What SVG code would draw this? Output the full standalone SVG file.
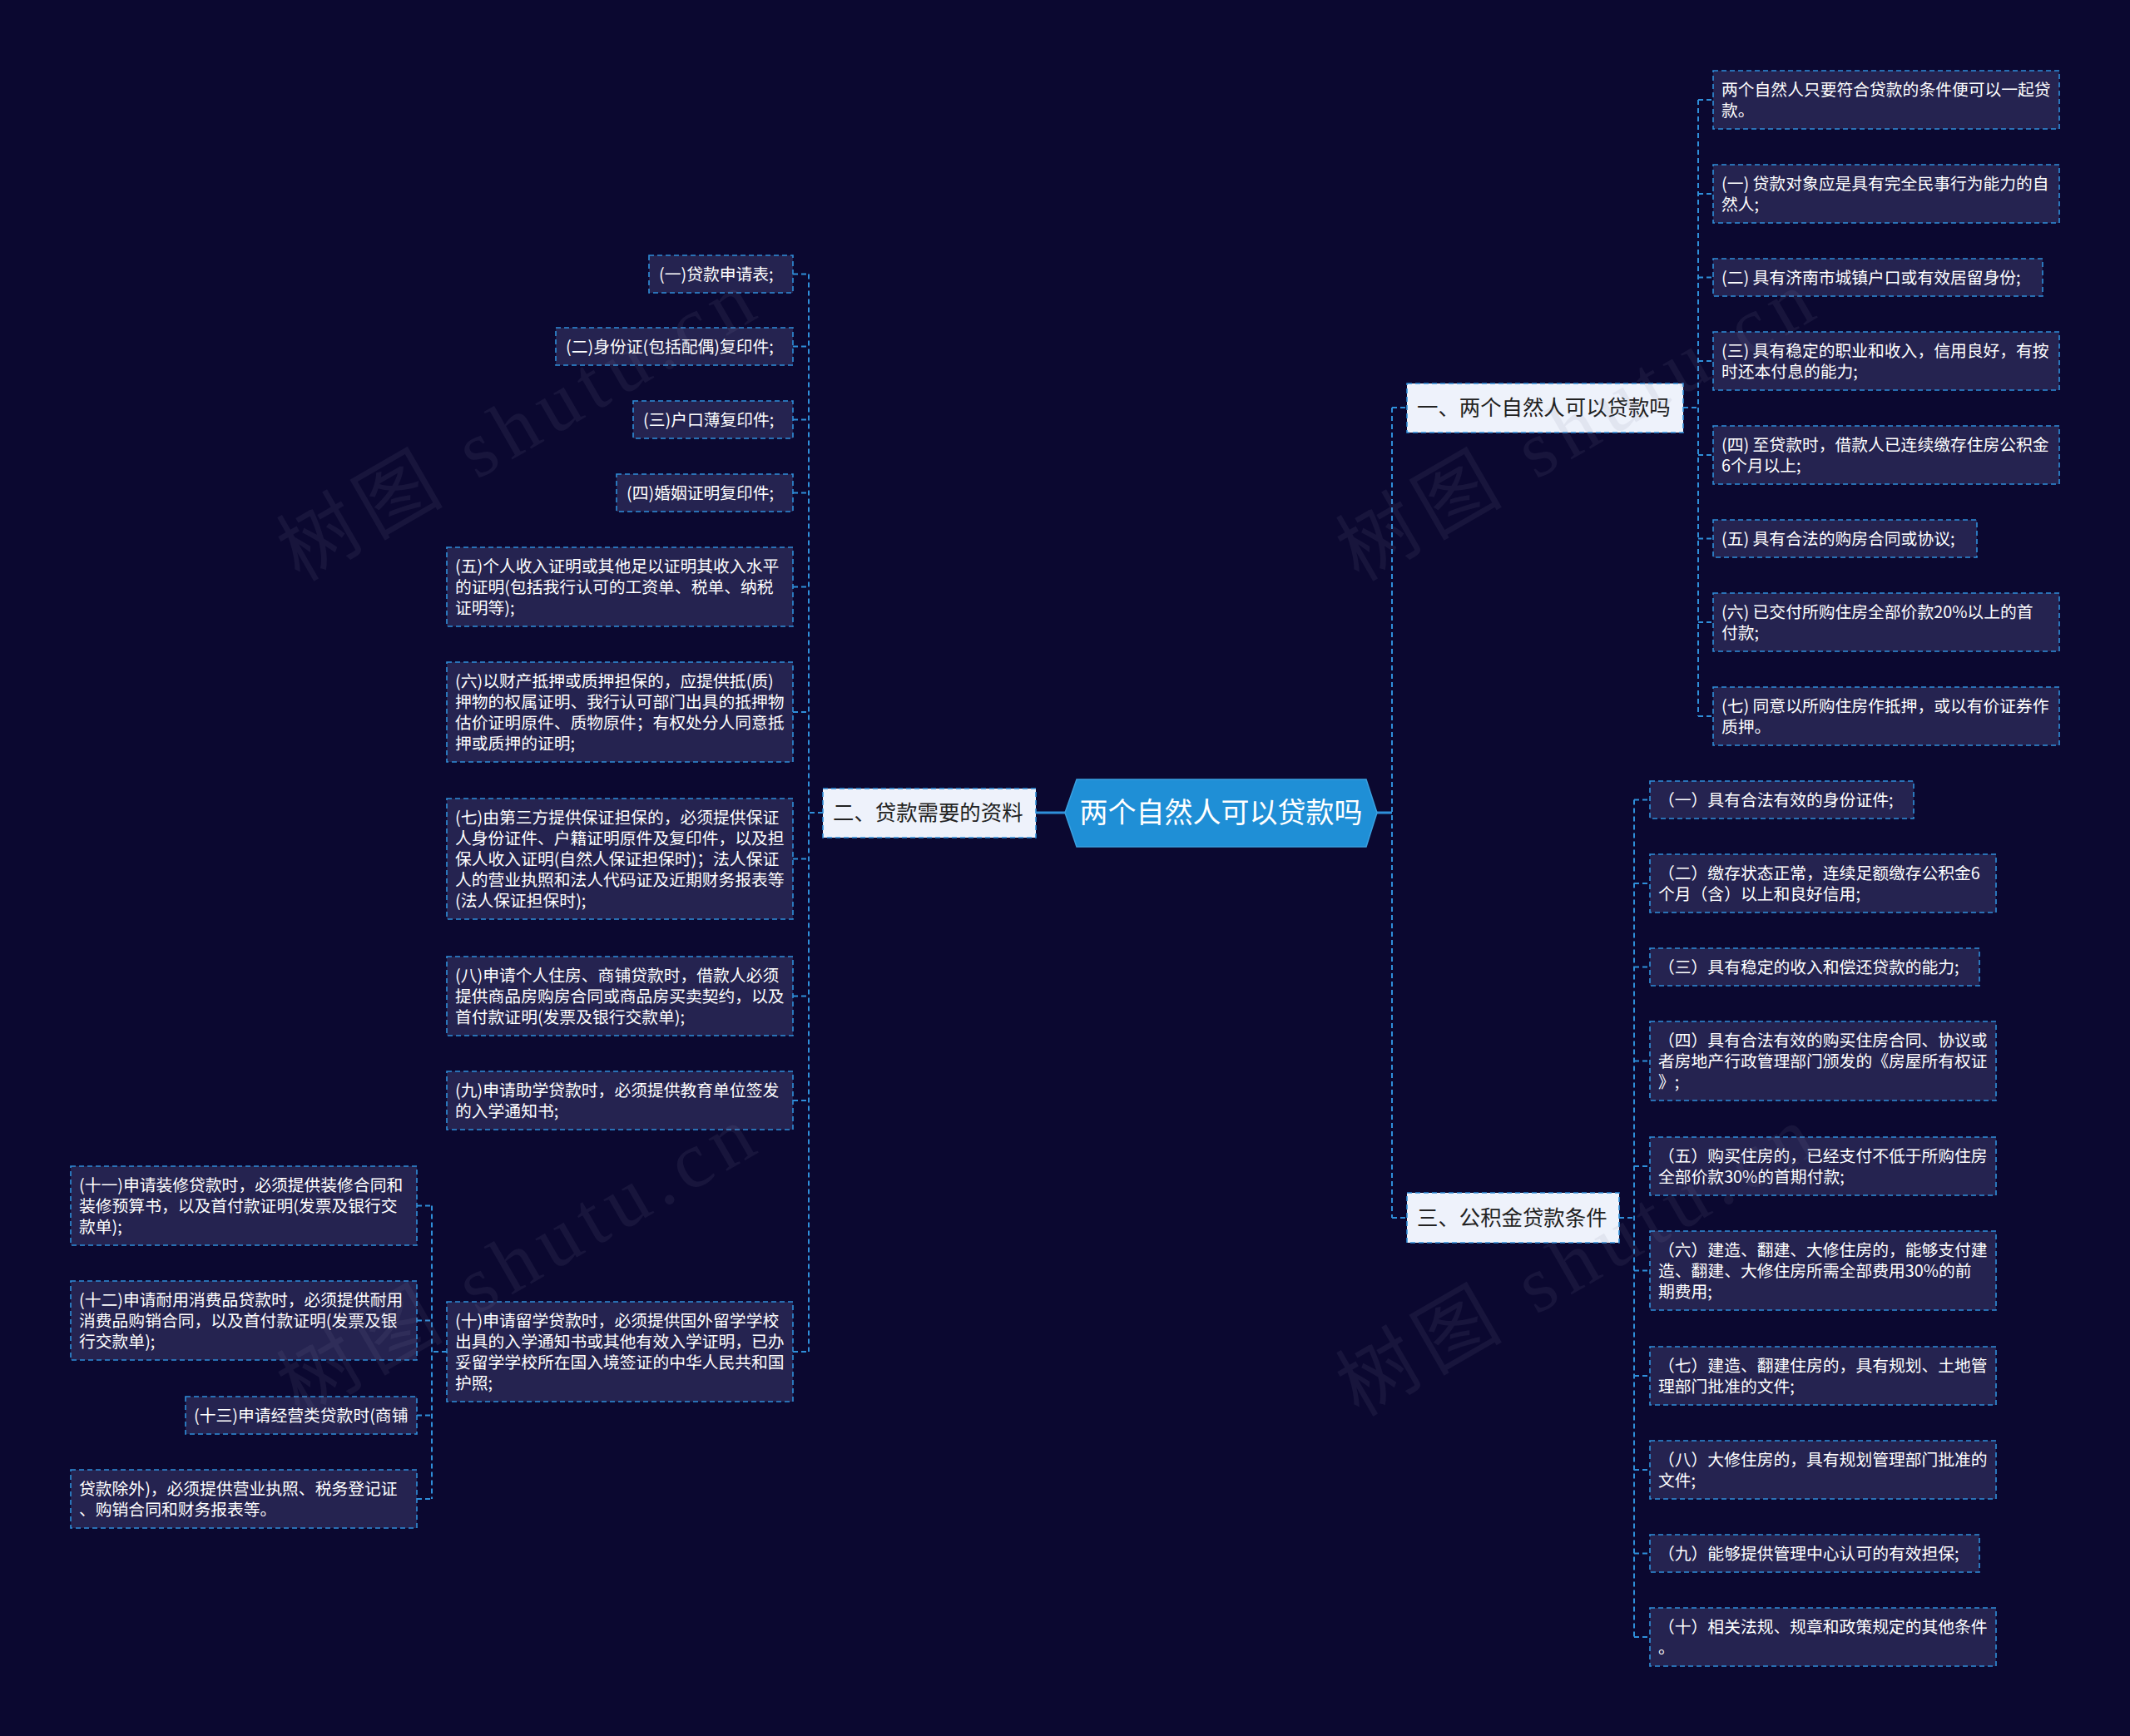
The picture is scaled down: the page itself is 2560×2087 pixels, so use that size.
<svg xmlns="http://www.w3.org/2000/svg" width="2560" height="2087" viewBox="0 0 2560 2087">
<style>
.bg{fill:#0b0830}
.box{fill:#252350;stroke:#2f8fda;stroke-width:1.6;stroke-dasharray:6 4}
.t{fill:#ffffff;font-family:"Noto Sans CJK SC","Liberation Sans",sans-serif;font-size:19.8px}
.mid{fill:#eef2fb;stroke:#2f8fda;stroke-width:1.6;stroke-dasharray:6 4}
.mt{fill:#222222;font-family:"Noto Sans CJK SC","Liberation Sans",sans-serif;font-size:25.4px}
.link{fill:none;stroke:#2f8fda;stroke-width:2;stroke-dasharray:6 4}
.solid{fill:none;stroke:#2f8fda;stroke-width:3}
.wm{fill:#8080a0;opacity:0.11;font-family:"Liberation Serif","Noto Sans CJK SC",serif;font-size:96px;letter-spacing:10px}
</style>
<rect class="bg" x="0" y="0" width="2560" height="2087"/>

<g id="connectors">
  <path class="solid" d="M1655,977 H1673 M1280,977 H1245"/>
  <path class="link" d="M1673,490 V1464 M1673,490 H1691 M1673,1464 H1691"/>
  <path class="link" d="M2023,490 H2041 M2041,120 V861 M2041,120 H2059 M2041,233 H2059 M2041,333.5 H2059 M2041,434 H2059 M2041,547 H2059 M2041,647.5 H2059 M2041,748 H2059 M2041,861 H2059"/>
  <path class="link" d="M1946,1464 H1964 M1964,961.5 V1968 M1964,961.5 H1983 M1964,1062 H1983 M1964,1162.5 H1983 M1964,1275.5 H1983 M1964,1402 H1983 M1964,1527.5 H1983 M1964,1654 H1983 M1964,1767 H1983 M1964,1867.5 H1983 M1964,1968 H1983"/>
  <path class="link" d="M989,977 H972 M972,329.5 V1625 M953,329.5 H972 M953,416.5 H972 M953,504.5 H972 M953,592.5 H972 M953,705.5 H972 M953,856 H972 M953,1032.5 H972 M953,1197.5 H972 M953,1323 H972 M953,1625 H972"/>
  <path class="link" d="M537,1625 H519 M519,1449.5 V1802 M501,1449.5 H519 M501,1587.5 H519 M501,1701.5 H519 M501,1802 H519"/>
</g>

<g id="root">
  <polygon points="1280,977 1294,937 1642,937 1655,977 1642,1018 1294,1018" fill="#1f8fd6" stroke="#3aa0e0" stroke-width="1.5"/>
  <text x="1467.5" y="989" text-anchor="middle" fill="#ffffff" font-family="'Noto Sans CJK SC','Liberation Sans',sans-serif" font-size="34">两个自然人可以贷款吗</text>
</g>

<g id="n1">
  <rect class="mid" x="1691" y="461" width="332" height="59"/>
  <text class="mt" x="1703" y="499">一、两个自然人可以贷款吗</text>
</g>
<g id="n2">
  <rect class="mid" x="989" y="948" width="256" height="59"/>
  <text class="mt" x="1001" y="986">二、贷款需要的资料</text>
</g>
<g id="n3">
  <rect class="mid" x="1691" y="1434" width="255" height="60"/>
  <text class="mt" x="1703" y="1473">三、公积金贷款条件</text>
</g>

<!-- branch 1 children -->
<g id="n1-0"><rect class="box" x="2059" y="85" width="416" height="70"/><text class="t" x="2069" y="115">两个自然人只要符合贷款的条件便可以一起贷</text><text class="t" x="2069" y="140">款。</text></g>
<g id="n1-1"><rect class="box" x="2059" y="198" width="416" height="70"/><text class="t" x="2069" y="228">(一) 贷款对象应是具有完全民事行为能力的自</text><text class="t" x="2069" y="253">然人;</text></g>
<g id="n1-2"><rect class="box" x="2059" y="311" width="396" height="45"/><text class="t" x="2069" y="341">(二) 具有济南市城镇户口或有效居留身份;</text></g>
<g id="n1-3"><rect class="box" x="2059" y="399" width="416" height="70"/><text class="t" x="2069" y="429">(三) 具有稳定的职业和收入，信用良好，有按</text><text class="t" x="2069" y="454">时还本付息的能力;</text></g>
<g id="n1-4"><rect class="box" x="2059" y="512" width="416" height="70"/><text class="t" x="2069" y="542">(四) 至贷款时，借款人已连续缴存住房公积金</text><text class="t" x="2069" y="567">6个月以上;</text></g>
<g id="n1-5"><rect class="box" x="2059" y="625" width="317" height="45"/><text class="t" x="2069" y="655">(五) 具有合法的购房合同或协议;</text></g>
<g id="n1-6"><rect class="box" x="2059" y="713" width="416" height="70"/><text class="t" x="2069" y="743">(六) 已交付所购住房全部价款20%以上的首</text><text class="t" x="2069" y="768">付款;</text></g>
<g id="n1-7"><rect class="box" x="2059" y="826" width="416" height="70"/><text class="t" x="2069" y="856">(七) 同意以所购住房作抵押，或以有价证券作</text><text class="t" x="2069" y="881">质押。</text></g>

<!-- branch 3 children -->
<g id="n3-1"><rect class="box" x="1983" y="939" width="317" height="45"/><text class="t" x="1993" y="969">（一）具有合法有效的身份证件;</text></g>
<g id="n3-2"><rect class="box" x="1983" y="1027" width="416" height="70"/><text class="t" x="1993" y="1057">（二）缴存状态正常，连续足额缴存公积金6</text><text class="t" x="1993" y="1082">个月（含）以上和良好信用;</text></g>
<g id="n3-3"><rect class="box" x="1983" y="1140" width="396" height="45"/><text class="t" x="1993" y="1170">（三）具有稳定的收入和偿还贷款的能力;</text></g>
<g id="n3-4"><rect class="box" x="1983" y="1228" width="416" height="95"/><text class="t" x="1993" y="1258">（四）具有合法有效的购买住房合同、协议或</text><text class="t" x="1993" y="1283">者房地产行政管理部门颁发的《房屋所有权证</text><text class="t" x="1993" y="1308">》;</text></g>
<g id="n3-5"><rect class="box" x="1983" y="1367" width="416" height="70"/><text class="t" x="1993" y="1397">（五）购买住房的，已经支付不低于所购住房</text><text class="t" x="1993" y="1422">全部价款30%的首期付款;</text></g>
<g id="n3-6"><rect class="box" x="1983" y="1480" width="416" height="95"/><text class="t" x="1993" y="1510">（六）建造、翻建、大修住房的，能够支付建</text><text class="t" x="1993" y="1535">造、翻建、大修住房所需全部费用30%的前</text><text class="t" x="1993" y="1560">期费用;</text></g>
<g id="n3-7"><rect class="box" x="1983" y="1619" width="416" height="70"/><text class="t" x="1993" y="1649">（七）建造、翻建住房的，具有规划、土地管</text><text class="t" x="1993" y="1674">理部门批准的文件;</text></g>
<g id="n3-8"><rect class="box" x="1983" y="1732" width="416" height="70"/><text class="t" x="1993" y="1762">（八）大修住房的，具有规划管理部门批准的</text><text class="t" x="1993" y="1787">文件;</text></g>
<g id="n3-9"><rect class="box" x="1983" y="1845" width="396" height="45"/><text class="t" x="1993" y="1875">（九）能够提供管理中心认可的有效担保;</text></g>
<g id="n3-10"><rect class="box" x="1983" y="1933" width="416" height="70"/><text class="t" x="1993" y="1963">（十）相关法规、规章和政策规定的其他条件</text><text class="t" x="1993" y="1988">。</text></g>

<!-- branch 2 children -->
<g id="n2-1"><rect class="box" x="780" y="307" width="173" height="45"/><text class="t" x="792" y="337">(一)贷款申请表;</text></g>
<g id="n2-2"><rect class="box" x="668" y="394" width="285" height="45"/><text class="t" x="680" y="424">(二)身份证(包括配偶)复印件;</text></g>
<g id="n2-3"><rect class="box" x="761" y="482" width="192" height="45"/><text class="t" x="773" y="512">(三)户口薄复印件;</text></g>
<g id="n2-4"><rect class="box" x="741" y="570" width="212" height="45"/><text class="t" x="753" y="600">(四)婚姻证明复印件;</text></g>
<g id="n2-5"><rect class="box" x="537" y="658" width="416" height="95"/><text class="t" x="547" y="688">(五)个人收入证明或其他足以证明其收入水平</text><text class="t" x="547" y="713">的证明(包括我行认可的工资单、税单、纳税</text><text class="t" x="547" y="738">证明等);</text></g>
<g id="n2-6"><rect class="box" x="537" y="796" width="416" height="120"/><text class="t" x="547" y="826">(六)以财产抵押或质押担保的，应提供抵(质)</text><text class="t" x="547" y="851">押物的权属证明、我行认可部门出具的抵押物</text><text class="t" x="547" y="876">估价证明原件、质物原件；有权处分人同意抵</text><text class="t" x="547" y="901">押或质押的证明;</text></g>
<g id="n2-7"><rect class="box" x="537" y="960" width="416" height="145"/><text class="t" x="547" y="990">(七)由第三方提供保证担保的，必须提供保证</text><text class="t" x="547" y="1015">人身份证件、户籍证明原件及复印件，以及担</text><text class="t" x="547" y="1040">保人收入证明(自然人保证担保时)；法人保证</text><text class="t" x="547" y="1065">人的营业执照和法人代码证及近期财务报表等</text><text class="t" x="547" y="1090">(法人保证担保时);</text></g>
<g id="n2-8"><rect class="box" x="537" y="1150" width="416" height="95"/><text class="t" x="547" y="1180">(八)申请个人住房、商铺贷款时，借款人必须</text><text class="t" x="547" y="1205">提供商品房购房合同或商品房买卖契约，以及</text><text class="t" x="547" y="1230">首付款证明(发票及银行交款单);</text></g>
<g id="n2-9"><rect class="box" x="537" y="1288" width="416" height="70"/><text class="t" x="547" y="1318">(九)申请助学贷款时，必须提供教育单位签发</text><text class="t" x="547" y="1343">的入学通知书;</text></g>
<g id="n2-10"><rect class="box" x="537" y="1565" width="416" height="120"/><text class="t" x="547" y="1595">(十)申请留学贷款时，必须提供国外留学学校</text><text class="t" x="547" y="1620">出具的入学通知书或其他有效入学证明，已办</text><text class="t" x="547" y="1645">妥留学学校所在国入境签证的中华人民共和国</text><text class="t" x="547" y="1670">护照;</text></g>

<!-- branch (十) children -->
<g id="n2-10-1"><rect class="box" x="85" y="1402" width="416" height="95"/><text class="t" x="95" y="1432">(十一)申请装修贷款时，必须提供装修合同和</text><text class="t" x="95" y="1457">装修预算书，以及首付款证明(发票及银行交</text><text class="t" x="95" y="1482">款单);</text></g>
<g id="n2-10-2"><rect class="box" x="85" y="1540" width="416" height="95"/><text class="t" x="95" y="1570">(十二)申请耐用消费品贷款时，必须提供耐用</text><text class="t" x="95" y="1595">消费品购销合同，以及首付款证明(发票及银</text><text class="t" x="95" y="1620">行交款单);</text></g>
<g id="n2-10-3"><rect class="box" x="223" y="1679" width="278" height="45"/><text class="t" x="233" y="1709">(十三)申请经营类贷款时(商铺</text></g>
<g id="n2-10-4"><rect class="box" x="85" y="1767" width="416" height="70"/><text class="t" x="95" y="1797">贷款除外)，必须提供营业执照、税务登记证</text><text class="t" x="95" y="1822">、购销合同和财务报表等。</text></g>

<g id="watermarks">
  <text class="wm" transform="translate(360,700) rotate(-30)">树图 shutu.cn</text>
  <text class="wm" transform="translate(1633,700) rotate(-30)">树图 shutu.cn</text>
  <text class="wm" transform="translate(360,1704) rotate(-30)">树图 shutu.cn</text>
  <text class="wm" transform="translate(1633,1704) rotate(-30)">树图 shutu.cn</text>
</g>
</svg>
